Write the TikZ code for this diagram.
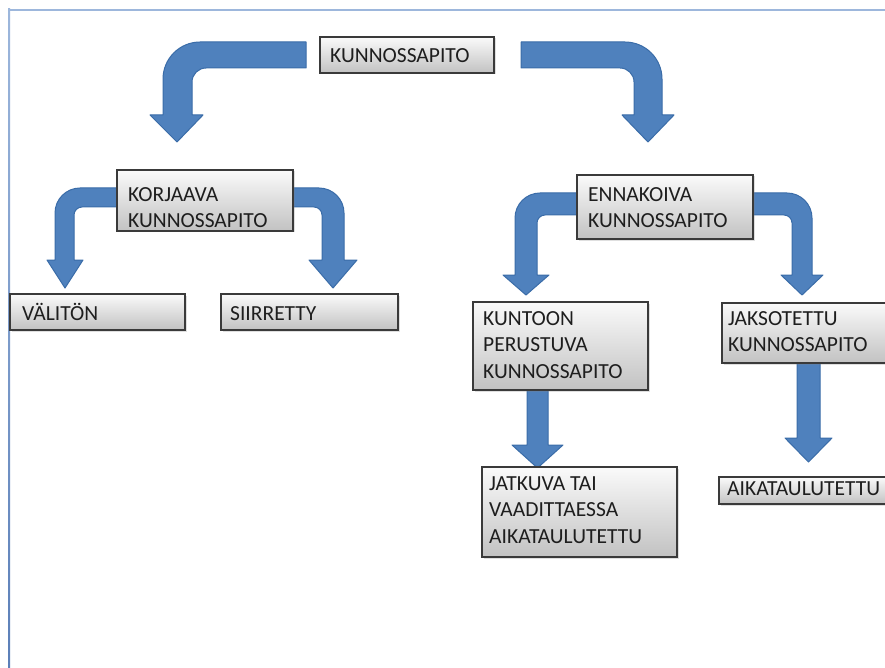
\documentclass[tikz,border=0pt]{standalone}
\usepackage{fontspec}
\setmainfont{Carlito}
\usetikzlibrary{shadows}
\definecolor{arrowfill}{HTML}{4F81BD}
\definecolor{arrowline}{HTML}{3A6CA8}
\definecolor{boxline}{HTML}{3A3A3A}
\definecolor{boxtop}{HTML}{FAFAFA}
\definecolor{boxbot}{HTML}{C2C2C2}
\definecolor{frametop}{HTML}{9DB7DC}
\definecolor{framebot}{HTML}{5B7FB8}
\definecolor{txtcol}{HTML}{1E1E1E}
\newcommand\mystrut{\rule{0pt}{20pt}}
\begin{document}
\begin{tikzpicture}[x=1pt,y=-1pt,
  blockarrow/.style={fill=arrowfill, draw=arrowline, line width=1pt, line join=round},
  box/.style={draw=boxline, line width=1.2pt, top color=boxtop, bottom color=boxbot,
    inner sep=0pt, outer sep=0pt, anchor=north west,
    drop shadow={shadow xshift=1.5pt, shadow yshift=-1.5pt, opacity=0.25}},
  txt/.style={anchor=north west, inner sep=0pt, align=left, text=txtcol,
    font=\fontsize{21.5}{26.7}\selectfont}]
\useasboundingbox (0,0) rectangle (885,668);
\clip (0,0) rectangle (885,668);
\fill[white] (0,0) rectangle (885,668);
% frame
\fill[frametop] (8,9) rectangle (885,11);
\shade[top color=frametop, bottom color=framebot] (8,9) rectangle (10,668);

% block arrows
% top-left
\draw[blockarrow] (306,42) -- (200,42) .. controls (179.6,42) and (163,58.6) .. (163,79)
  -- (163,115) -- (150,115) -- (177,142) -- (203,115) -- (192,115) -- (192,82)
  .. controls (192,74.3) and (198.3,68) .. (206,68) -- (306,68) -- cycle;
% top-right
\draw[blockarrow] (521,42) -- (625,42) .. controls (645.4,42) and (662,58.6) .. (662,79)
  -- (662,115) -- (674,115) -- (648,142) -- (622,115) -- (634,115) -- (634,82)
  .. controls (634,74.3) and (627.7,68) .. (620,68) -- (521,68) -- cycle;
% korjaava left
\draw[blockarrow] (125,188) -- (80,188) .. controls (66.2,188) and (55,199.2) .. (55,213)
  -- (55,260) -- (47,260) -- (65,288) -- (83,260) -- (74,260) -- (74,215)
  .. controls (74,210.6) and (77.6,207) .. (82,207) -- (125,207) -- cycle;
% korjaava right
\draw[blockarrow] (285,188) -- (319,188) .. controls (332.8,188) and (344,199.2) .. (344,213)
  -- (344,260) -- (357,260) -- (333,288) -- (309,260) -- (322,260) -- (322,215)
  .. controls (322,210.6) and (318.4,207) .. (314,207) -- (285,207) -- cycle;
% ennakoiva left
\draw[blockarrow] (585,193) -- (540,193) .. controls (526.2,193) and (515,204.2) .. (515,218)
  -- (515,275) -- (503,275) -- (526,295) -- (549,275) -- (537,275) -- (537,223)
  .. controls (537,218.6) and (540.6,215) .. (545,215) -- (585,215) -- cycle;
% ennakoiva right
\draw[blockarrow] (745,193) -- (787,193) .. controls (800.8,193) and (812,204.2) .. (812,218)
  -- (812,275) -- (823,275) -- (802,295) -- (781,275) -- (792,275) -- (792,223)
  .. controls (792,218.6) and (788.4,215) .. (784,215) -- (745,215) -- cycle;
% kuntoon down
\draw[blockarrow] (527,385) -- (527,445) -- (512,445) -- (537.5,468) -- (563,445)
  -- (548,445) -- (548,385) -- cycle;
% jaksotettu down
\draw[blockarrow] (797,358) -- (797,438) -- (785,438) -- (808.5,462) -- (832,438)
  -- (820,438) -- (820,358) -- cycle;

% boxes
\node[box, minimum width=174pt, minimum height=36pt] (b0) at (320,37) {};
\node[box, minimum width=176pt, minimum height=61pt] (b1) at (117,170) {};
\node[box, minimum width=175pt, minimum height=36pt] (b2) at (10,294) {};
\node[box, minimum width=177pt, minimum height=36pt] (b3) at (221,294) {};
\node[box, minimum width=176pt, minimum height=64pt] (b4) at (577,175) {};
\node[box, minimum width=175pt, minimum height=88pt] (b5) at (473,302) {};
\node[box, minimum width=180pt, minimum height=60pt] (b6) at (722,303) {};
\node[box, minimum width=195pt, minimum height=90pt] (b7) at (482,467) {};
\node[box, minimum width=180pt, minimum height=27pt] (b8) at (719,477) {};

% texts
\node[txt] (t0) at (330,42) {\mystrut KUNNOSSAPITO};
\node[txt] (t1) at (128,181) {\mystrut KORJAAVA\\KUNNOSSAPITO};
\node[txt] (t2) at (22,300) {\mystrut VÄLITÖN};
\node[txt] (t3) at (230,300) {\mystrut SIIRRETTY};
\node[txt] (t4) at (588,181) {\mystrut ENNAKOIVA\\KUNNOSSAPITO};
\node[txt] (t5) at (483,305) {\mystrut KUNTOON\\PERUSTUVA\\KUNNOSSAPITO};
\node[txt] (t6) at (728,305) {\mystrut JAKSOTETTU\\KUNNOSSAPITO};
\node[txt] (t7) at (489,470) {\mystrut JATKUVA TAI\\VAADITTAESSA\\AIKATAULUTETTU};
\node[txt] (t8) at (727,475) {\mystrut AIKATAULUTETTU};
\end{tikzpicture}
\end{document}
